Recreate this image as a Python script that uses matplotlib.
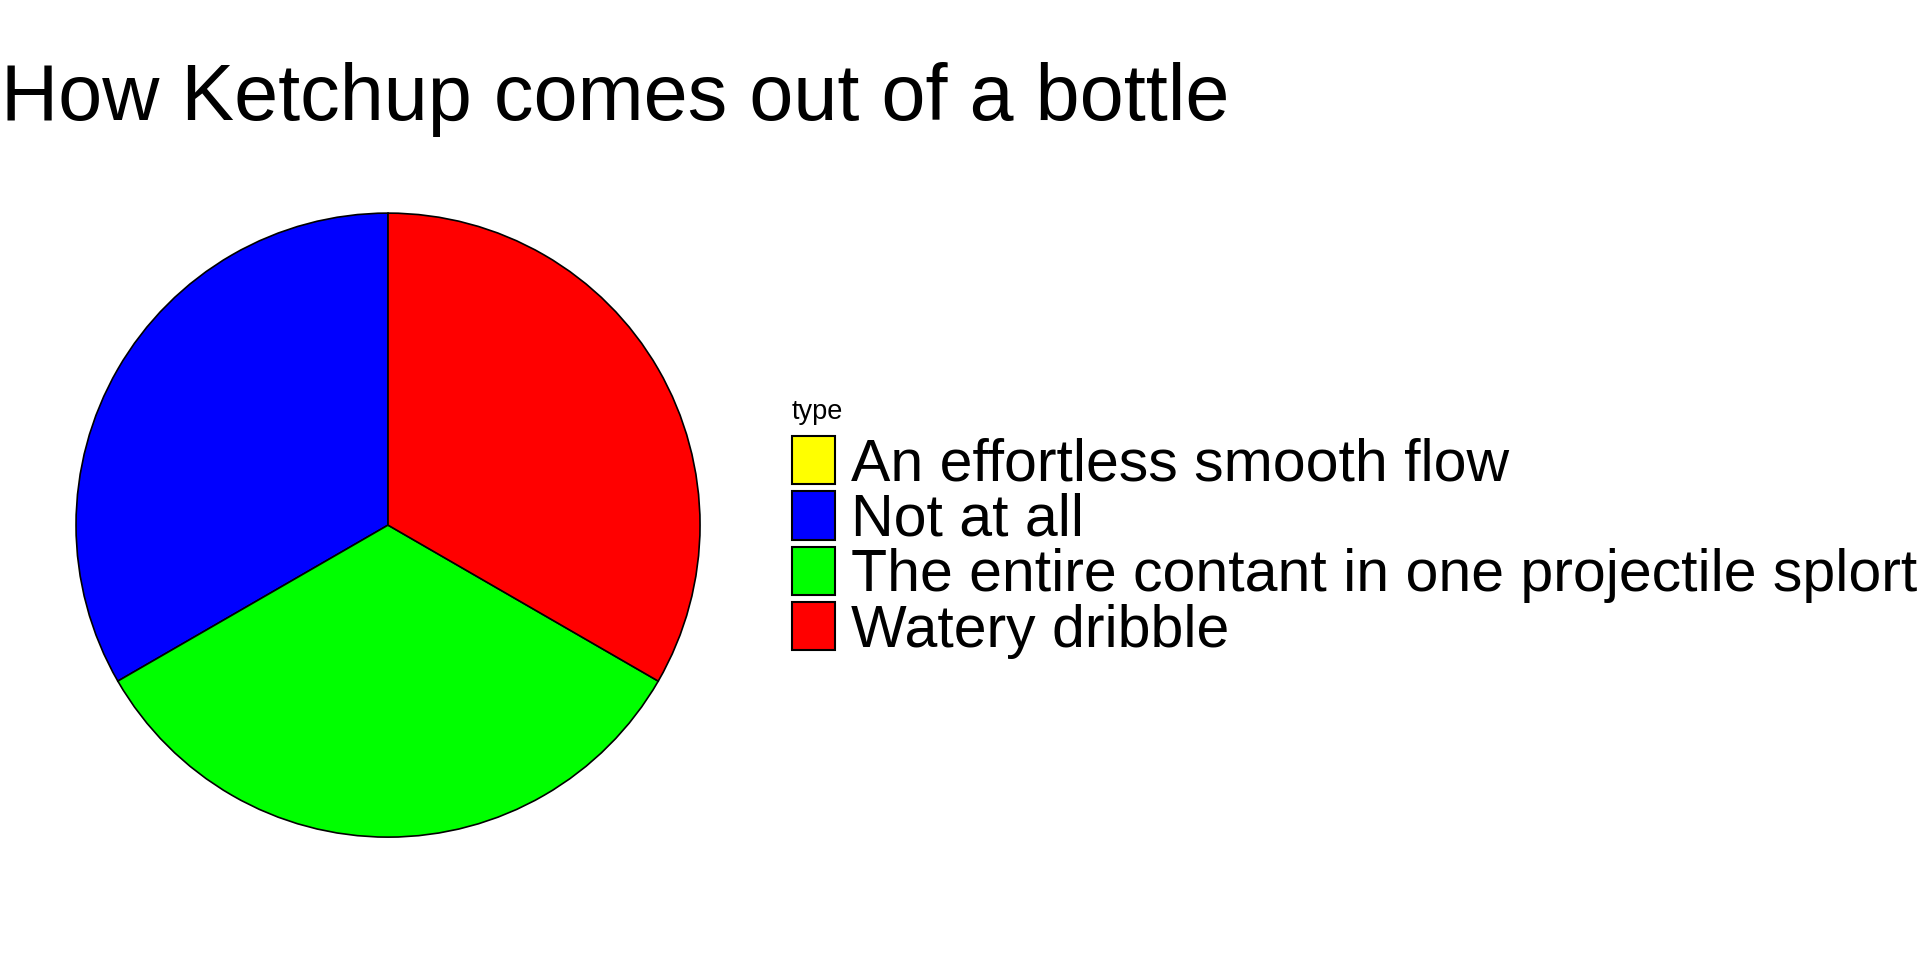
import matplotlib
matplotlib.use("Agg")
import matplotlib.pyplot as plt
from matplotlib.patches import Patch

plt.rcParams["font.family"] = ["Liberation Sans", "DejaVu Sans"]

TITLE = "How Ketchup comes out of a bottle"
LEGEND_TITLE = "type"
categories = [
    "An effortless smooth flow",
    "Not at all",
    "The entire contant in one projectile splort",
    "Watery dribble",
]
counts = [0, 1, 1, 1]
colors = ["#FFFF00", "#0000FF", "#00FF00", "#FF0000"]


def main():
    fig = plt.figure(figsize=(19.2, 9.6), dpi=100)
    fig.patch.set_facecolor("white")

    # pie area: centre ~(388, 525) px, radius ~312 px
    ax = fig.add_axes([0.0396, 0.128, 0.325, 0.65])
    ax.pie(
        counts,
        colors=colors,
        startangle=90,
        counterclock=True,
        wedgeprops={"edgecolor": "black", "linewidth": 1.2},
    )
    ax.set_xlim(-1, 1)
    ax.set_ylim(-1, 1)
    ax.set_aspect("equal")
    ax.axis("off")

    fig.text(0.0005, 1 - 120 / 960, TITLE, fontsize=57, ha="left", va="baseline")

    handles = [Patch(facecolor=c, edgecolor="black", linewidth=1.5) for c in colors]
    leg = fig.legend(
        handles,
        categories,
        loc="upper left",
        bbox_to_anchor=(792 / 1920, 1 - 399 / 960),
        frameon=False,
        fontsize=42.5,
        title=LEGEND_TITLE,
        title_fontsize=19.5,
        alignment="left",
        handlelength=0.73,
        handleheight=0.88,
        handletextpad=0.27,
        labelspacing=-0.02,
        borderpad=0,
        borderaxespad=0,
    )
    leg._legend_box.sep = 8

    fig.savefig("out.png", dpi=100, facecolor="white")
    plt.close(fig)


if __name__ == "__main__":
    main()
